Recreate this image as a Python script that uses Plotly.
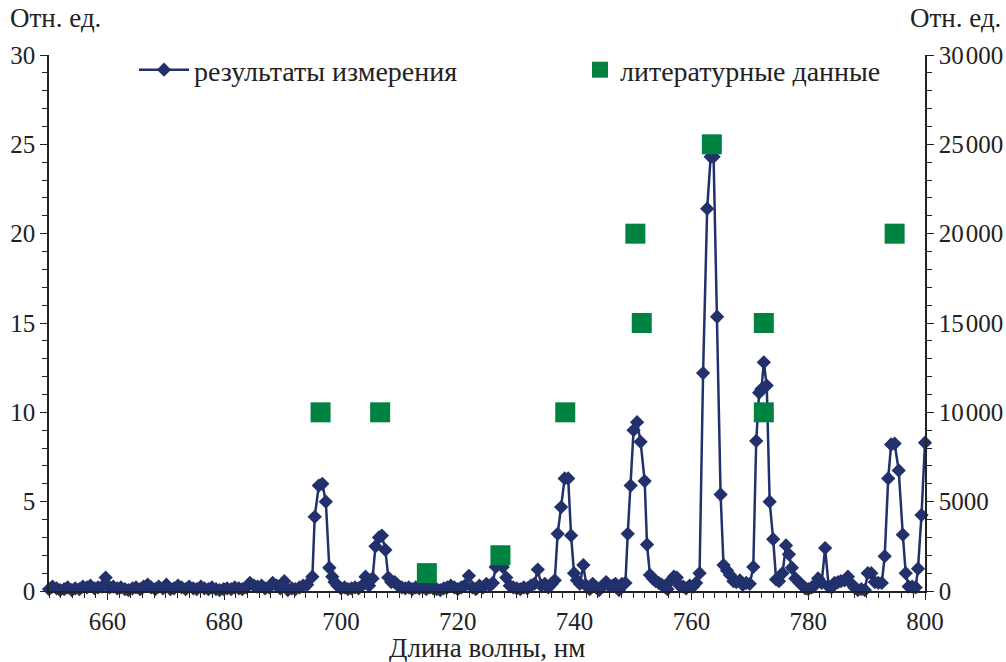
import plotly.graph_objects as go

# Measured spectrum (left axis, relative units)
meas_x = [
    650.0, 650.6, 651.3, 651.9, 652.6, 653.2, 653.9, 654.5, 655.2, 655.8,
    656.5, 657.1, 657.8, 658.4, 659.1, 659.7, 660.4, 661.0, 661.7, 662.3,
    663.0, 663.6, 664.3, 664.9, 665.6, 666.2, 666.9, 667.5, 668.2, 668.8,
    669.5, 670.1, 670.8, 671.4, 672.1, 672.7, 673.4, 674.0, 674.7, 675.3,
    676.0, 676.6, 677.3, 677.9, 678.6, 679.2, 679.9, 680.5, 681.2, 681.8,
    682.5, 683.1, 683.8, 684.4, 685.1, 685.7, 686.4, 687.0, 687.7, 688.3,
    689.0, 689.6, 690.3, 690.9, 691.6, 692.2, 692.9, 693.5, 694.2,
    695.1, 695.5, 696.2, 696.8, 697.4, 698.0, 698.5, 698.9, 699.4, 700.0,
    700.6, 701.2, 701.8, 702.4, 703.0, 703.6, 704.2, 704.8, 705.4, 705.9,
    706.5, 707.0, 707.6, 708.1, 708.6, 709.2, 709.8, 710.4, 711.0, 711.6,
    712.2, 712.8, 713.4, 714.0, 714.6, 715.2, 715.8, 716.4, 717.0, 717.6,
    718.2, 718.8, 719.4, 720.0, 720.6, 721.2, 721.9, 722.5, 723.1, 723.7,
    724.3, 724.9, 725.5, 726.0, 726.5, 727.1, 727.7, 728.3, 728.9, 729.5,
    730.1, 730.7, 731.3, 731.9, 732.5, 733.1, 733.7, 734.3, 734.9, 735.5,
    736.1, 736.6, 737.1, 737.7, 738.3, 738.9, 739.4, 739.9, 740.4, 740.9,
    741.5, 742.0, 742.6, 743.1, 743.7, 744.2, 744.8, 745.4, 745.9, 746.5,
    747.0, 747.6, 748.1, 748.7, 749.1, 749.6, 750.1, 750.7, 751.3, 752.0,
    752.4, 752.9, 753.4, 753.9, 754.4, 754.9, 755.4, 755.9, 756.5, 757.0,
    757.5, 758.0, 758.6, 759.1, 759.7, 760.3, 760.8, 761.4, 762.0, 762.7,
    763.3, 763.8, 764.4, 765.0, 765.5, 766.1, 766.6, 767.2, 767.7, 768.3,
    768.8, 769.4, 770.0, 770.6, 771.1, 771.6, 772.0, 772.4, 772.9, 773.4,
    774.0, 774.5, 775.0, 775.6, 776.2, 776.7, 777.2, 777.8, 778.4, 779.0,
    779.5, 780.0, 780.6, 781.2, 781.7, 782.3, 782.9, 783.5, 784.0, 784.5,
    785.1, 785.6, 786.2, 786.8, 787.4, 787.9, 788.5, 789.1, 789.7, 790.2,
    790.8, 791.4, 792.0, 792.6, 793.1, 793.7, 794.2, 794.8, 795.5, 796.2,
    796.7, 797.2, 797.8, 798.4, 798.8, 799.4, 800.0,
]
meas_y = [
    0.10, 0.25, 0.15, 0.05, 0.10, 0.20, 0.05, 0.15, 0.10, 0.25,
    0.20, 0.30, 0.15, 0.20, 0.25, 0.75, 0.20, 0.25, 0.15, 0.20,
    0.10, 0.05, 0.15, 0.20, 0.10, 0.25, 0.35, 0.20, 0.10, 0.25,
    0.15, 0.35, 0.10, 0.15, 0.30, 0.20, 0.10, 0.25, 0.15, 0.10,
    0.25, 0.15, 0.10, 0.20, 0.10, 0.05, 0.10, 0.15, 0.10, 0.20,
    0.15, 0.10, 0.20, 0.45, 0.30, 0.25, 0.30, 0.15, 0.20, 0.45,
    0.30, 0.15, 0.55, 0.05, 0.15, 0.10, 0.20, 0.30, 0.35,
    0.80, 4.15, 5.90, 6.00, 5.00, 1.30, 0.80, 0.50, 0.30, 0.15,
    0.20, 0.10, 0.15, 0.20, 0.15, 0.30, 0.80, 0.30, 0.70, 2.50,
    3.00, 3.10, 2.30, 0.75, 0.50, 0.50, 0.30, 0.20, 0.15, 0.20,
    0.10, 0.20, 0.15, 0.20, 0.10, 0.20, 0.15, 0.10, 0.05, 0.15,
    0.20, 0.30, 0.20, 0.10, 0.20, 0.30, 0.85, 0.20, 0.10, 0.30,
    0.20, 0.40, 0.30, 0.45, 1.35, 1.70, 1.35, 0.75, 0.30, 0.20,
    0.15, 0.10, 0.20, 0.15, 0.30, 0.40, 1.20, 0.30, 0.40, 0.20,
    0.40, 0.60, 3.20, 4.70, 6.30, 6.30, 3.10, 1.00, 0.60, 0.40,
    1.45, 0.30, 0.10, 0.40, 0.20, 0.05, 0.30, 0.50, 0.30, 0.30,
    0.40, 0.05, 0.40, 0.45, 3.20, 5.90, 9.00, 9.45, 8.35, 6.15,
    2.60, 0.90, 0.70, 0.55, 0.45, 0.35, 0.25, 0.10, 0.60, 0.80,
    0.75, 0.30, 0.25, 0.15, 0.30, 0.25, 0.45, 1.00, 12.20, 21.40,
    24.30, 24.30, 15.35, 5.40, 1.45, 1.15, 0.90, 0.55, 0.50, 0.60,
    0.35, 0.45, 0.40, 1.35, 8.40, 11.10, 11.30, 12.80, 11.50, 5.00,
    2.90, 0.65, 0.55, 1.00, 2.55, 2.05, 1.30, 0.70, 0.50, 0.30,
    0.15, 0.10, 0.20, 0.35, 0.70, 0.45, 2.40, 0.25, 0.20, 0.45,
    0.50, 0.55, 0.60, 0.80, 0.40, 0.20, 0.05, 0.10, 0.05, 1.00,
    1.00, 0.50, 0.45, 0.45, 1.95, 6.30, 8.20, 8.25, 6.75, 3.15,
    1.00, 0.25, 0.25, 0.20, 1.25, 4.25, 8.30,
]

# Literature data (right axis)
lit_x = [696.5, 706.7, 714.7, 727.3, 738.4, 750.4, 751.5, 763.5, 772.4, 772.4, 794.8]
lit_y = [10000, 10000, 1000, 2000, 10000, 20000, 15000, 25000, 15000, 10000, 20000]

left_ticks = [0, 5, 10, 15, 20, 25, 30]
right_tickvals = [0, 5000, 10000, 15000, 20000, 25000, 30000]
right_ticktext = ["0", "5000", "10\u200a000", "15\u200a000", "20\u200a000", "25\u200a000", "30\u200a000"]
x_ticks = [660, 680, 700, 720, 740, 760, 780, 800]

NAVY = "#22306c"
GREEN = "#008341"
FONT = "Liberation Serif"
TXT = "#222222"

ML, MR, MT, MB = 49, 81, 55, 71
W, H = 1006, 662
plot_w = W - ML - MR
plot_h = H - MT - MB


def px_x(px):
    return (px - ML) / plot_w


def px_y(py):
    return (H - MB - py) / plot_h


fig = go.Figure()
fig.add_trace(go.Scatter(
    x=meas_x, y=meas_y, mode="lines+markers", name="результаты измерения",
    line=dict(color=NAVY, width=2.5),
    marker=dict(symbol="diamond", size=11, color=NAVY),
    legend="legend", cliponaxis=False, showlegend=True,
))
fig.add_trace(go.Scatter(
    x=lit_x, y=lit_y, mode="markers", name="литературные данные",
    marker=dict(symbol="square", size=20, color=GREEN),
    yaxis="y2", legend="legend2", showlegend=True,
))

axis_common = dict(
    showline=True, linecolor="#222", linewidth=1.5, ticks="outside",
    tickcolor="#222", tickwidth=1.2, ticklen=7, showgrid=False, zeroline=False,
    automargin=False,
    tickfont=dict(family=FONT, size=25, color=TXT),
)
minor_common = dict(ticks="outside", ticklen=5, tickcolor="#222", tickwidth=1)

fig.update_layout(
    template="none",
    width=W, height=H,
    margin=dict(l=ML, r=MR, t=MT, b=MB, autoexpand=False),
    paper_bgcolor="white", plot_bgcolor="white",
    font=dict(family=FONT, size=25, color=TXT),
    showlegend=True,
    xaxis=dict(range=[650, 800], tickvals=x_ticks,
               minor=dict(dtick=2, **minor_common), **axis_common),
    yaxis=dict(range=[0, 30], tickvals=left_ticks,
               minor=dict(dtick=1, **minor_common), **axis_common),
    yaxis2=dict(range=[0, 30000], overlaying="y", side="right",
                tickvals=right_tickvals, ticktext=right_ticktext,
                minor=dict(dtick=1000, **minor_common), **axis_common),
    legend=dict(x=px_x(134), y=px_y(70), xanchor="left", yanchor="middle",
                bgcolor="rgba(0,0,0,0)", font=dict(family=FONT, size=28, color=TXT),
                itemwidth=50),
    legend2=dict(x=px_x(580), y=px_y(70), xanchor="left", yanchor="middle",
                 bgcolor="rgba(0,0,0,0)", font=dict(family=FONT, size=28, color=TXT),
                 itemwidth=30),
    annotations=[
        dict(text="Длина волны, нм", x=0.5, y=px_y(648), xref="paper", yref="paper",
             xanchor="center", yanchor="middle", showarrow=False,
             font=dict(family=FONT, size=27, color=TXT)),
        dict(text="Отн. ед.", x=px_x(8), y=px_y(18), xref="paper", yref="paper",
             xanchor="left", yanchor="middle", showarrow=False,
             font=dict(family=FONT, size=27, color=TXT)),
        dict(text="Отн. ед.", x=px_x(1003), y=px_y(18), xref="paper", yref="paper",
             xanchor="right", yanchor="middle", showarrow=False,
             font=dict(family=FONT, size=27, color=TXT)),
    ],
)

# remove the browser's default 8px page margin so the figure fills the window exactly
fig.write_html(
    "out.html",
    config={"displayModeBar": False},
    post_script="document.body.style.margin='0';document.body.style.overflow='hidden';",
)
